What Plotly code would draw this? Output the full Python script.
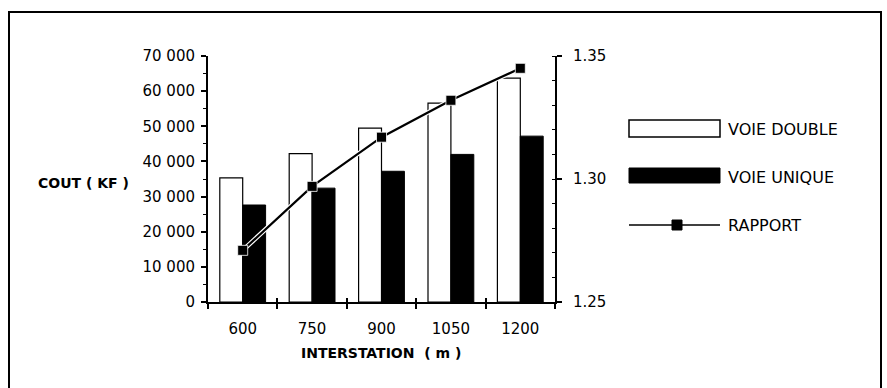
import plotly.graph_objects as go

# ---- data ----
interstation = ["600", "750", "900", "1050", "1200"]
voie_double = [35300, 42200, 49500, 56600, 63700]
voie_unique = [27600, 32400, 37200, 42000, 47200]
rapport = [1.271, 1.297, 1.317, 1.332, 1.345]

W, H = 887, 388
L, R, T, B = 208, 555, 56, 302


def px_x(p):
    return (p - L) / (R - L)


def px_y(p):
    return (B - p) / (B - T)


FONT = "DejaVu Sans"

fig = go.Figure()
fig.add_trace(go.Bar(x=interstation, y=voie_double, name="VOIE DOUBLE",
                     marker=dict(color="white", line=dict(color="black", width=1.2)),
                     showlegend=False))
fig.add_trace(go.Bar(x=interstation, y=voie_unique, name="VOIE UNIQUE",
                     marker=dict(color="black", line=dict(color="black", width=1)),
                     showlegend=False))
# white halo under the ratio line (visible where it crosses black bars)
fig.add_trace(go.Scatter(x=interstation, y=rapport, xaxis="x2", yaxis="y2",
                         mode="lines", line=dict(color="white", width=4.5),
                         hoverinfo="skip", showlegend=False))
fig.add_trace(go.Scatter(x=interstation, y=rapport, name="RAPPORT", xaxis="x2", yaxis="y2",
                         mode="lines+markers", line=dict(color="black", width=2.2),
                         marker=dict(symbol="square", size=10, color="black",
                                     line=dict(color="white", width=0.8)),
                         showlegend=False))

tickfont = dict(family=FONT, size=15, color="black")

fig.update_layout(
    width=W, height=H,
    margin=dict(l=L, r=W - R, t=T, b=H - B, pad=0),
    paper_bgcolor="white", plot_bgcolor="white",
    separators=". ",
    barmode="group", bargap=0.34, bargroupgap=0,
    showlegend=False,
    xaxis=dict(type="category", categoryorder="array", categoryarray=interstation,
               range=[-0.5, 4.5], showgrid=False, zeroline=False,
               showline=True, linecolor="black", linewidth=2,
               ticks="outside", ticklen=5, tickwidth=1.5, tickcolor="black",
               tickson="boundaries", tickfont=tickfont, ticklabelstandoff=12),
    xaxis2=dict(type="category", categoryorder="array", categoryarray=interstation,
                overlaying="x", anchor="y2", range=[-0.5, 4.5], showgrid=False, zeroline=False,
                showline=False, ticks="inside", ticklen=4, tickwidth=1.5, tickcolor="black",
                tickson="boundaries", showticklabels=False),
    yaxis=dict(range=[0, 70000], dtick=10000, tickformat=",d", showgrid=False, zeroline=False,
               showline=True, linecolor="black", linewidth=2,
               ticks="outside", ticklen=5, tickwidth=1.5, tickcolor="black",
               minor=dict(dtick=5000, ticks="outside", ticklen=3, tickcolor="black", tickwidth=1),
               tickfont=tickfont, ticklabelstandoff=3),
    yaxis3=dict(range=[0, 70000], dtick=10000, overlaying="y", side="left", anchor="x",
                showgrid=False, zeroline=False, showline=False, showticklabels=False,
                ticks="inside", ticklen=4, tickwidth=1.5, tickcolor="black"),
    yaxis2=dict(range=[1.25, 1.35], dtick=0.05, tickformat=".2f", overlaying="y", side="right",
                anchor="x", showgrid=False, zeroline=False,
                showline=True, linecolor="black", linewidth=2,
                ticks="outside", ticklen=5, tickwidth=1.5, tickcolor="black",
                minor=dict(dtick=0.01, ticks="inside", ticklen=3, tickcolor="black", tickwidth=1),
                tickfont=tickfont, ticklabelstandoff=8),
    yaxis4=dict(range=[1.25, 1.35], dtick=0.05, overlaying="y", side="right", anchor="x",
                showgrid=False, zeroline=False, showline=False, showticklabels=False,
                ticks="inside", ticklen=4, tickwidth=1.5, tickcolor="black"),
)

shapes = []
# outer frame
shapes.append(dict(type="rect", xref="paper", yref="paper",
                   x0=px_x(9), x1=px_x(881), y0=px_y(400), y1=px_y(12),
                   line=dict(color="black", width=2), fillcolor="rgba(0,0,0,0)"))
# legend swatches
shapes.append(dict(type="rect", xref="paper", yref="paper",
                   x0=px_x(629), x1=px_x(720), y0=px_y(137), y1=px_y(120),
                   line=dict(color="black", width=1.5), fillcolor="white"))
shapes.append(dict(type="rect", xref="paper", yref="paper",
                   x0=px_x(629), x1=px_x(720), y0=px_y(183), y1=px_y(168),
                   line=dict(color="black", width=1), fillcolor="black"))
shapes.append(dict(type="line", xref="paper", yref="paper",
                   x0=px_x(629), x1=px_x(720), y0=px_y(225), y1=px_y(225),
                   line=dict(color="black", width=1.5)))
shapes.append(dict(type="rect", xref="paper", yref="paper",
                   x0=px_x(672), x1=px_x(682), y0=px_y(230), y1=px_y(220),
                   line=dict(color="black", width=1), fillcolor="black"))
fig.update_layout(shapes=shapes)

annos = [
    dict(text="<b>COUT ( KF )</b>", x=px_x(131), y=px_y(183), xanchor="right", yanchor="middle",
         font=dict(family=FONT, size=14, color="black")),
    dict(text="<b>INTERSTATION  ( m )</b>", x=px_x(381), y=px_y(353), xanchor="center", yanchor="middle",
         font=dict(family=FONT, size=14, color="black")),
    dict(text="VOIE DOUBLE", x=px_x(726), y=px_y(129), xanchor="left", yanchor="middle",
         font=dict(family=FONT, size=16, color="black")),
    dict(text="VOIE UNIQUE", x=px_x(726), y=px_y(177), xanchor="left", yanchor="middle",
         font=dict(family=FONT, size=16, color="black")),
    dict(text="RAPPORT", x=px_x(726), y=px_y(225), xanchor="left", yanchor="middle",
         font=dict(family=FONT, size=16, color="black")),
]
for a in annos:
    a.update(xref="paper", yref="paper", showarrow=False)
fig.update_layout(annotations=annos)

fig.write_html("out.html")
